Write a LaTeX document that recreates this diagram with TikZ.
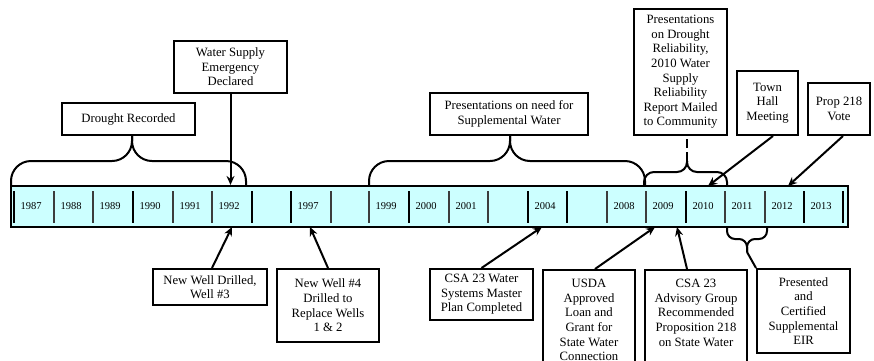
\documentclass[tikz,border=0pt]{standalone}
\usepackage{fontspec}
\setmainfont{Liberation Serif}
\usepackage{xcolor}
\definecolor{Col1}{RGB}{204,255,255}
\definecolor{Col2}{RGB}{60,60,60}
\usetikzlibrary{arrows.meta}
\tikzstyle{Box}=[draw,line width=2pt,fill=white,inner sep=0pt,align=center,
font=\fontsize{12.7}{14.6}\selectfont]
\tikzstyle{Edge}=[line width=2pt,-{Stealth[length=9pt,width=8pt]}]
\tikzstyle{Brace}=[line width=2pt,rounded corners=20pt]
\tikzstyle{Year}=[font=\fontsize{10.5}{12}\selectfont,inner sep=0pt]
\tikzstyle{Tick}=[draw=Col2,line width=1.3pt]
\tikzstyle{TickB}=[draw=black,line width=2.6pt]

\begin{document}
\begin{tikzpicture}[x=1pt,y=-1pt]
        \useasboundingbox(0,0)rectangle(874,360);
        \clip(0,0)rectangle(874,360);
        % timeline
        \node[draw,line width=2.2pt,fill=Col1,inner sep=0pt,minimum width=837pt,
            minimum height=41pt](bar)at(429.5,206.5){};
        \foreach \x in {54,93,173,212,331,369,449,488,607,646,725,765}
            \draw[Tick](\x,191)--(\x,223);
        \foreach \x in {14,133,252,291,409,528,567,686,804,843}
            \draw[TickB](\x,191)--(\x,223);
        \foreach \x/\yr in {14/1987,54/1988,93/1989,133/1990,173/1991,212/1992,
            291/1997,369/1999,409/2000,449/2001,528/2004,607/2008,646/2009,
            686/2010,725/2011,765/2012,804/2013}
            \node[Year](y\yr)at(\x+17,206){\yr};
        \coordinate(p1992)at(232,227);
        \coordinate(p1997)at(310,227);
        \coordinate(p2004)at(542,227);
        \coordinate(p2009)at(655,227);
        \coordinate(q2009)at(677,227);
        \coordinate(p2010)at(708,186);
        \coordinate(p2012)at(788,186);
        % boxes above
        \node[Box,minimum width=133pt,minimum height=32pt](drought)at(128.5,119){Drought Recorded};
        \node[Box,minimum width=113pt,minimum height=52pt](emerg)at(230.5,67){Water Supply\\Emergency\\Declared};
        \node[Box,minimum width=158pt,minimum height=42pt](suppl)at(509,114){Presentations on need for\\Supplemental Water};
        \node[Box,minimum width=93pt,minimum height=126pt](reliab)at(680.5,72){Presentations\\on Drought\\Reliability,\\2010 Water\\Supply\\Reliability\\Report Mailed\\to Community};
        \node[Box,minimum width=61pt,minimum height=64pt](town)at(767.5,103){Town\\Hall\\Meeting};
        \node[Box,minimum width=62pt,minimum height=52pt](prop)at(839,109){Prop 218\\Vote};
        % boxes below
        \node[Box,minimum width=114pt,minimum height=36pt](well3)at(210,287){New Well Drilled,\\Well \#3};
        \node[Box,minimum width=102pt,minimum height=73pt](well4)at(328,305.5){New Well \#4\\Drilled to\\Replace Wells\\1 \& 2};
        \node[Box,minimum width=103pt,minimum height=51pt](master)at(481.5,294.5){CSA 23 Water\\Systems Master\\Plan Completed};
        \node[Box,anchor=north,minimum width=92pt,minimum height=100pt](usda)at(589,269){USDA\\Approved\\Loan and\\Grant for\\State Water\\Connection};
        \node[Box,anchor=north,minimum width=102pt,minimum height=100pt](advis)at(696,269){CSA 23\\Advisory Group\\Recommended\\Proposition 218\\on State Water\\\mbox{}};
        \node[Box,minimum width=93pt,minimum height=84pt](eir)at(803.5,311){Presented\\and\\Certified\\Supplemental\\EIR};
        % braces
        \draw[Brace](11,186)|-(132,161)--(132,135);
        \draw[Brace](132,135)--(132,161)-|(246,186);
        \draw[Brace](369,186)|-(510,161)--(510,135);
        \draw[Brace](510,135)--(510,161)-|(645,186);
        \draw[Brace,rounded corners=10pt](644,186)|-(687,172)--(687,161);
        \draw[Brace,rounded corners=10pt](687,161)--(687,172)-|(727,186);
        \coordinate(relTip)at(687,161);
        \draw[line width=2pt,dash pattern=on 9pt off 4pt](relTip)--(relTip|-reliab.south);
        \draw[Brace,rounded corners=8pt](727,227)|-(747,239)--(747,252);
        \draw[Brace,rounded corners=8pt](747,252)--(747,239)-|(767,227);
        \coordinate(eirTip)at(747,252);
        \draw[line width=2pt](eirTip)--(eir.north west);
        % arrows
        \draw[Edge](emerg.south)--(emerg.south|-bar.north);
        \draw[Edge]([xshift=5.5pt]town.south)--(p2010);
        \draw[Edge]([xshift=4pt]prop.south)--(p2012);
        \draw[Edge]([xshift=2pt]well3.north)--(p1992);
        \draw[Edge](well4.north)--(p1997);
        \draw[Edge](master.north)--(p2004);
        \draw[Edge]([xshift=6pt]usda.north)--(p2009);
        \draw[Edge]([xshift=-9pt]advis.north)--(q2009);
    \end{tikzpicture}
\end{document}
